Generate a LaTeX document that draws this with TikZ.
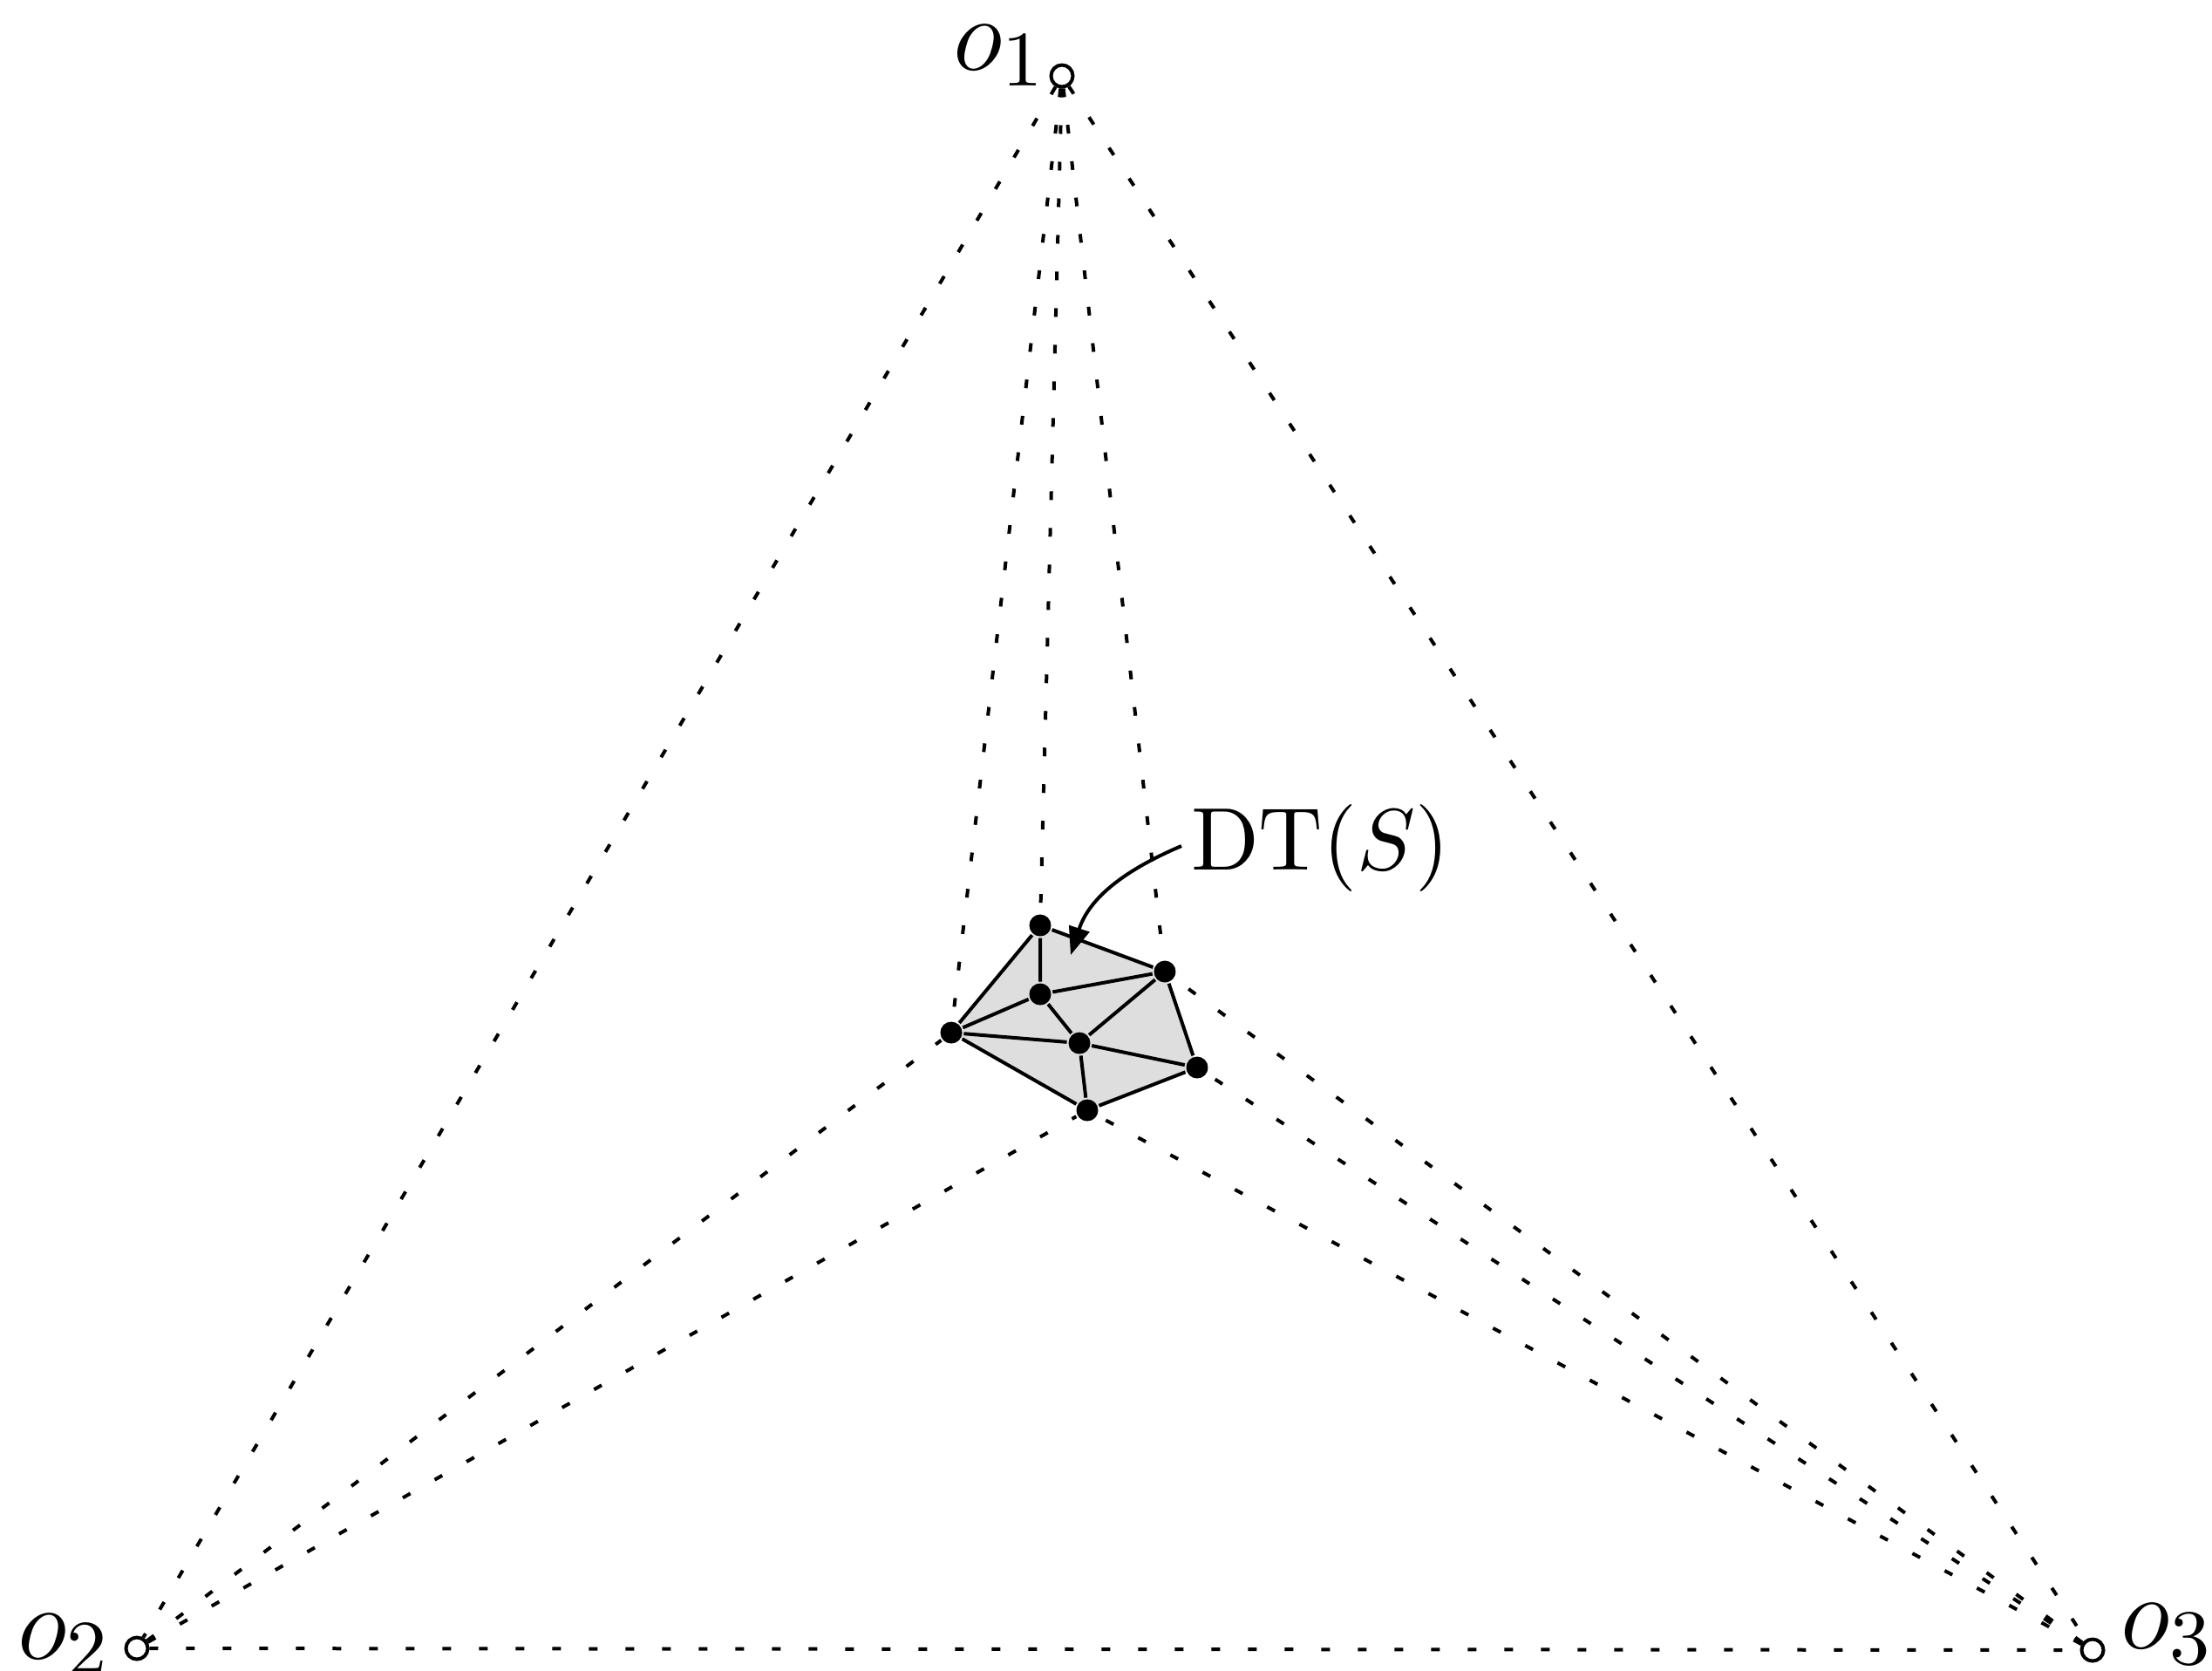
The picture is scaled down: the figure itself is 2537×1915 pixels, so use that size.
\documentclass[tikz,border=0pt]{standalone}
\usetikzlibrary{arrows.meta,backgrounds}
\begin{document}
\begin{tikzpicture}[x=0.1pt,y=-0.1pt,
  pt/.style={circle,fill=black,inner sep=0pt,minimum size=2.5pt},
  site/.style={circle,draw,fill=white,line width=0.4pt,inner sep=0pt,minimum size=2.5pt},
  edge/.style={line width=0.4pt},
  proj/.style={line width=0.4pt,dash pattern=on 1pt off 3.2pt},
  lbl/.style={inner sep=0pt,anchor=base west,font=\fontsize{12.5}{15}\selectfont},
  dtl/.style={inner sep=0pt,anchor=base west,font=\fontsize{10.2}{12}\selectfont}]
\useasboundingbox (0,0) rectangle (2537,1915);
% sites
\node[site] (o1) at (1218,87) {};
\node[site] (o2) at (157,1890) {};
\node[site] (o3) at (2400,1892) {};
\node[lbl] (l1) at (1091,80) {$o_1$};
\node[lbl] (l2) at (18,1902) {$o_2$};
\node[lbl] (l3) at (2430,1890) {$o_3$};
% points
\node[pt] (A) at (1193,1061) {};
\node[pt] (B) at (1336,1114) {};
\node[pt] (C) at (1193,1140) {};
\node[pt] (D) at (1091,1184) {};
\node[pt] (E) at (1238,1196) {};
\node[pt] (F) at (1373,1224) {};
\node[pt] (G) at (1247,1273) {};
\begin{scope}[on background layer]
  \fill[black!13] (A.center) -- (B.center) -- (F.center) -- (G.center) -- (D.center) -- cycle;
\end{scope}
% projection lines
\draw[proj] (o1) -- (o2);
\draw[proj] (o1) -- (o3);
\draw[proj] (o2) -- (o3);
\draw[proj] (o1) -- (D);
\draw[proj] (o1) -- (A);
\draw[proj] (o1) -- (B);
\draw[proj] (o2) -- (D);
\draw[proj] (o2) -- (G);
\draw[proj] (o3) -- (B);
\draw[proj] (o3) -- (F);
\draw[proj] (o3) -- (G);
% triangulation
\draw[edge] (A) -- (B) (A) -- (C) (A) -- (D) (C) -- (B) (C) -- (D) (C) -- (E)
  (D) -- (E) (B) -- (E) (B) -- (F) (E) -- (F) (D) -- (G) (E) -- (G) (G) -- (F);
% label
\node[dtl] (dt) at (1364,997) {DT$(S)$};
\coordinate (as) at (1355,970);
\coordinate (at) at (1228,1095);
\draw[edge,-{Triangle[length=3.2pt,width=2.4pt]}] (as) to[out=203,in=72] (at);
\end{tikzpicture}
\end{document}
